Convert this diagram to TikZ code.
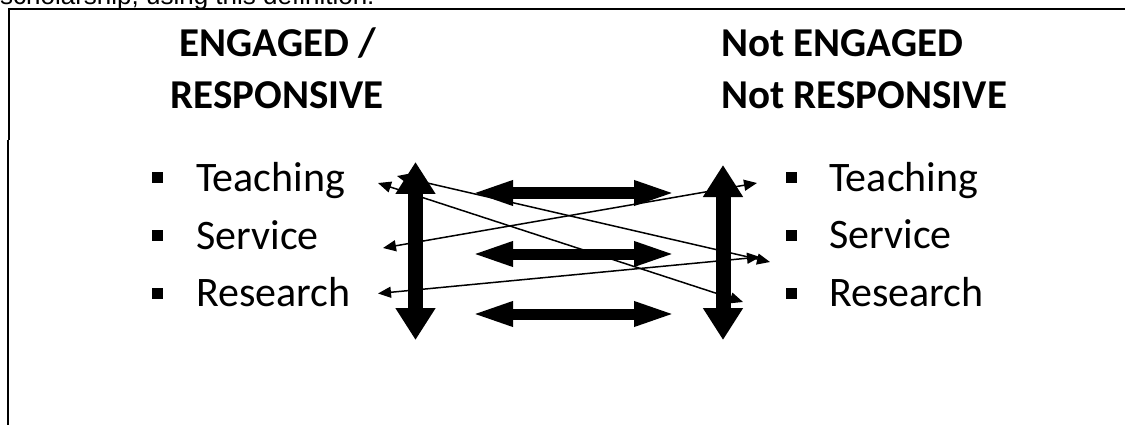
\documentclass[tikz,border=0pt]{standalone}
\usepackage{fontspec}
\setmainfont{Carlito}
\newfontfamily\arialfont{Liberation Sans}
\usetikzlibrary{arrows.meta}
\begin{document}
\begin{tikzpicture}[x=1pt,y=-1pt,
  titletext/.style={inner sep=0pt, font=\bfseries\fontsize{41}{48}\selectfont},
  itemtext/.style={inner sep=0pt, anchor=base west, font=\fontsize{42}{48}\selectfont},
  bulletsq/.style={rectangle, fill=black, inner sep=0pt, minimum size=11pt},
  bigv/.style={line width=15pt, {Triangle[length=32pt,width=38pt]}-{Triangle[length=32pt,width=38pt]}},
  bigh/.style={line width=11pt, {Triangle[length=43pt,width=22pt]}-{Triangle[length=43pt,width=22pt]}},
  thinarrow/.style={line width=1.5pt, {Triangle[length=13pt,width=11pt]}-{Triangle[length=13pt,width=11pt]}}]
\useasboundingbox (0,0) rectangle (1125,425);
% cut-off intro line
\node[anchor=base west, inner sep=0pt, font=\arialfont\fontsize{26}{30}\selectfont] (intro) at (0,4.5) {scholarship, using this definition:};
% frame
\draw[line width=2pt] (8.5,140) -- (8.5,9) -- (1130,9);
\draw[line width=1.5pt] (8,140) -- (8,430);
% titles
\node[titletext, anchor=base] (eng1) at (278,57) {ENGAGED /};
\node[titletext, anchor=base] (eng2) at (277,109) {RESPONSIVE};
\node[titletext, anchor=base west] (neng1) at (721,57) {Not ENGAGED};
\node[titletext, anchor=base west] (neng2) at (721,109) {Not RESPONSIVE};
% left list
\node[bulletsq] (lb1) at (157,178) {};
\node[bulletsq] (lb2) at (157,235) {};
\node[bulletsq] (lb3) at (157,293) {};
\node[itemtext] (lt1) at (196,192) {Teaching};
\node[itemtext] (lt2) at (196,249) {Service};
\node[itemtext] (lt3) at (196,306) {Research};
% right list
\node[bulletsq] (rb1) at (791,178) {};
\node[bulletsq] (rb2) at (791,235) {};
\node[bulletsq] (rb3) at (791,293) {};
\node[itemtext] (rt1) at (829,191) {Teaching};
\node[itemtext] (rt2) at (829,248) {Service};
\node[itemtext] (rt3) at (829,306) {Research};
% thick arrow ends
\coordinate (lvt) at (415.5,162);
\coordinate (lvb) at (415.5,340);
\coordinate (rvt) at (723,165);
\coordinate (rvb) at (723,340);
\coordinate (h1l) at (470,193);
\coordinate (h1r) at (677,193);
\coordinate (h2l) at (470,254);
\coordinate (h2r) at (677,254);
\coordinate (h3l) at (470,314);
\coordinate (h3r) at (677,314);
\draw[bigv] (lvt) -- (lvb);
\draw[bigv] (rvt) -- (rvb);
\draw[bigh] (h1l) -- (h1r);
\draw[bigh] (h2l) -- (h2r);
\draw[bigh] (h3l) -- (h3r);
% thin arrow ends
\coordinate (a1l) at (397,176);
\coordinate (a1r) at (770,262);
\coordinate (a2l) at (378,183);
\coordinate (a2r) at (743,302);
\coordinate (a3l) at (383,248);
\coordinate (a3r) at (757,183);
\coordinate (a4l) at (378,293.5);
\coordinate (a4r) at (760,257);
\draw[thinarrow] (a1l) -- (a1r);
\draw[thinarrow] (a2l) -- (a2r);
\draw[thinarrow] (a3l) -- (a3r);
\draw[thinarrow] (a4l) -- (a4r);
\end{tikzpicture}
\end{document}
